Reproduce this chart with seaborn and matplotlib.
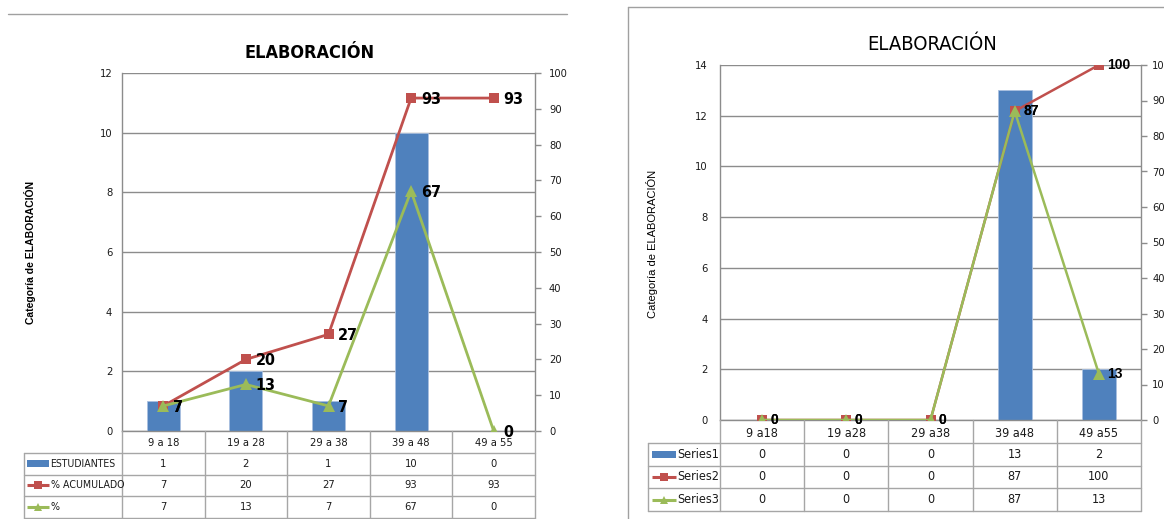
import numpy as np
import pandas as pd
import matplotlib
matplotlib.use("Agg")
import matplotlib.pyplot as plt
import seaborn as sns
from matplotlib.lines import Line2D
from matplotlib.patches import Rectangle

# ---------------- data ----------------
left_categories = ["9 a 18", "19 a 28", "29 a 38", "39 a 48", "49 a 55"]
left_estudiantes = [1, 2, 1, 10, 0]
left_acumulado = [7, 20, 27, 93, 93]
left_porcentaje = [7, 13, 7, 67, 0]
left_names = ["ESTUDIANTES", "% ACUMULADO", "%"]
left_yticks = [0, 2, 4, 6, 8, 10, 12]

right_categories = ["9 a18", "19 a28", "29 a38", "39 a48", "49 a55"]
right_series1 = [0, 0, 0, 13, 2]
right_series2 = [0, 0, 0, 87, 100]
right_series3 = [0, 0, 0, 87, 13]
right_names = ["Series1", "Series2", "Series3"]
right_yticks = [0, 2, 4, 6, 8, 10, 12, 14]

pct_ticks = [0, 10, 20, 30, 40, 50, 60, 70, 80, 90, 100]
title_text = "ELABORACIÓN"
ylabel_text = "Categoría de ELABORACIÓN"

# ---------------- style ----------------
BLUE = "#4F81BD"
RED = "#C0504D"
GREEN = "#9BBB59"
GRID = "#8C8C8C"
TABLE = "#A6A6A6"
TEXT = "#1a1a1a"

W, H = 1164, 519
sns.set_theme(style="white")
COND = ["DejaVu Sans"]
ARIAL = ["Liberation Sans", "DejaVu Sans"]
plt.rcParams["font.family"] = COND
plt.rcParams["font.stretch"] = "condensed"
plt.rcParams["text.color"] = TEXT

fig = plt.figure(figsize=(W / 100, H / 100), dpi=100)
fig.patch.set_facecolor("white")


def fx(px):
    return px / W


def fy(py):
    return 1 - py / H


def draw_panel(cfg):
    cats = cfg["cats"]
    x0, x1, ytop, ybot = cfg["plot"]
    ax = fig.add_axes([fx(x0), fy(ybot), (x1 - x0) / W, (ybot - ytop) / H])

    bars = pd.DataFrame({"cat": cats, "val": cfg["bars"]})
    sns.barplot(data=bars, x="cat", y="val", order=cats, ax=ax, color=BLUE,
                width=0.4, saturation=1, edgecolor="#a9c0e0", linewidth=0.6,
                zorder=2)
    ax.set_xlim(-0.5, len(cats) - 0.5)
    ax.set_ylim(0, cfg["yticks"][-1])
    ax.set_yticks(cfg["yticks"])
    ax.set_xlabel("")
    ax.set_ylabel("")
    ax.grid(axis="y", color=GRID, lw=1.0)
    ax.grid(axis="x", visible=False)
    ax.set_axisbelow(True)
    for s in ["top", "right"]:
        ax.spines[s].set_visible(False)
    for s in ["left", "bottom"]:
        ax.spines[s].set_color(GRID)
        ax.spines[s].set_linewidth(1.0)
    ax.tick_params(axis="y", length=0, pad=cfg["lpad"], labelsize=cfg["tick_fs"],
                   labelcolor=TEXT)
    ax.tick_params(axis="x", length=0, pad=cfg["xpad"], labelsize=cfg["cat_fs"],
                   labelcolor=TEXT)
    for lab in ax.get_yticklabels() + ax.get_xticklabels():
        lab.set_fontfamily(COND)
        lab.set_fontstretch("condensed")

    # percentage lines on the secondary axis
    ax2 = ax.twinx()
    sns.pointplot(x=cats, y=cfg["cum"], order=cats, ax=ax2, color=RED,
                  markers="s", linestyles="-", errorbar=None,
                  markersize=cfg["ms_sq"], linewidth=cfg["lw"],
                  markeredgewidth=0)
    sns.pointplot(x=cats, y=cfg["pct"], order=cats, ax=ax2, color=GREEN,
                  markers="^", linestyles="-", errorbar=None,
                  markersize=cfg["ms_tri"], linewidth=cfg["lw"],
                  markeredgewidth=0)
    ax2.set_xlim(-0.5, len(cats) - 0.5)
    ax2.set_ylim(0, 100)
    ax2.set_yticks(pct_ticks)
    ax2.set_xlabel("")
    ax2.set_ylabel("")
    ax2.grid(False)
    for s in ["top", "left", "bottom"]:
        ax2.spines[s].set_visible(False)
    ax2.spines["right"].set_color(GRID)
    ax2.spines["right"].set_linewidth(1.0)
    ax2.tick_params(axis="y", direction="out", length=4, width=1, color=GRID,
                    pad=cfg["rpad"], labelsize=cfg["tick_fs"], labelcolor=TEXT)
    for lab in ax2.get_yticklabels():
        lab.set_fontfamily(COND)
        lab.set_fontstretch("condensed")
    ax2.set_xticks(range(len(cats)))
    ax2.set_xticklabels(cats)
    ax2.tick_params(axis="x", length=0, labelbottom=False)

    for series in (cfg["cum"], cfg["pct"]):
        for i, v in enumerate(series):
            ax2.annotate(str(v), (i, v), xytext=(cfg["lab_dx"], cfg["lab_dy"]),
                         textcoords="offset points", ha="left", va="center",
                         fontsize=cfg["lab_fs"], fontweight="bold",
                         family=cfg["lab_family"], fontstretch=cfg["lab_stretch"],
                         color="black", annotation_clip=False)

    # data table under the plot
    tleft, tbot = cfg["table"]
    n = len(cats)
    cw = (x1 - x0) / n
    hdr = (x0 - tleft) / cw
    rh = (tbot - ybot) / 4
    axt = fig.add_axes([fx(tleft), fy(tbot), (x1 - tleft) / W, (tbot - ybot) / H])
    axt.set_xlim(-0.5 - hdr, n - 0.5)
    axt.set_ylim(4, 0)
    axt.set_axis_off()
    for k in range(n + 1):
        axt.plot([-0.5 + k, -0.5 + k], [0, 4], color=TABLE, lw=1.0, clip_on=False)
    axt.plot([-0.5 - hdr, -0.5 - hdr], [1, 4], color=TABLE, lw=1.0, clip_on=False)
    for r in range(1, 5):
        axt.plot([-0.5 - hdr, n - 0.5], [r, r], color=TABLE, lw=1.0, clip_on=False)

    rows = [cfg["bars"], cfg["cum"], cfg["pct"]]
    xl = -0.5 - hdr
    g0 = xl + cfg["glyph"][0] / cw
    g1 = xl + cfg["glyph"][1] / cw
    for r, (name, vals) in enumerate(zip(cfg["names"], rows), start=1):
        yc = r + 0.5
        if r == 1:
            axt.add_patch(Rectangle((g0, yc - 3.5 / rh), g1 - g0, 7 / rh,
                                    color=BLUE, lw=0))
        else:
            col = RED if r == 2 else GREEN
            mk = "s" if r == 2 else "^"
            axt.plot([g0, g1], [yc, yc], color=col, lw=2.2, solid_capstyle="butt")
            axt.plot([(g0 + g1) / 2], [yc], marker=mk, color=col, ms=6, mew=0)
        axt.text(g1 + 1.5 / cw, yc, name, ha="left", va="center",
                 fontsize=cfg["hdr_fs"], family=COND, fontstretch="condensed",
                 color=TEXT)
        for i, v in enumerate(vals):
            axt.text(i, yc, str(v), ha="center", va="center",
                     fontsize=cfg["tab_fs"], family=COND, fontstretch="condensed",
                     color=TEXT)

    # title and axis label
    tx, ty = cfg["title_pos"]
    fig.text(fx(tx), fy(ty), title_text, ha="center", va="center",
             fontsize=cfg["title_fs"], fontweight=cfg["title_w"], family=COND,
             fontstretch="condensed", color="black")
    lx, ly = cfg["ylab_pos"]
    fig.text(fx(lx), fy(ly), ylabel_text, rotation=90, ha="center", va="center",
             fontsize=cfg["ylab_fs"], fontweight=cfg["ylab_w"], family=ARIAL,
             color="black")


left_cfg = dict(
    cats=left_categories, bars=left_estudiantes, cum=left_acumulado,
    pct=left_porcentaje, names=left_names, yticks=left_yticks,
    plot=(122, 535, 73, 431), table=(24, 518),
    lpad=7, rpad=6, xpad=5, tick_fs=8, cat_fs=8, tab_fs=8, hdr_fs=7.6,
    ms_sq=7.5, ms_tri=8, lw=2.0,
    lab_dx=7, lab_dy=-1, lab_fs=11.5, lab_family=COND, lab_stretch="condensed",
    glyph=(3, 25), title_pos=(310, 53), title_fs=13, title_w="bold",
    ylab_pos=(30, 252), ylab_fs=7.5, ylab_w="bold",
)

right_cfg = dict(
    cats=right_categories, bars=right_series1, cum=right_series2,
    pct=right_series3, names=right_names, yticks=right_yticks,
    plot=(720, 1141, 65, 420), table=(648, 511),
    lpad=9, rpad=4, xpad=5, tick_fs=8, cat_fs=9, tab_fs=9, hdr_fs=9,
    ms_sq=7, ms_tri=8, lw=1.8,
    lab_dx=6, lab_dy=0, lab_fs=10, lab_family=ARIAL, lab_stretch="normal",
    glyph=(4, 28), title_pos=(932, 44), title_fs=14.5, title_w="normal",
    ylab_pos=(652, 244), ylab_fs=8, ylab_w="normal",
)

draw_panel(left_cfg)
draw_panel(right_cfg)

# chart frames
fig.add_artist(Line2D([fx(8), fx(567)], [fy(14), fy(14)], transform=fig.transFigure,
                      color="#a0a0a0", lw=1.0))
fig.add_artist(Line2D([fx(628), fx(628)], [fy(7), fy(519)], transform=fig.transFigure,
                      color="#a0a0a0", lw=1.0))
fig.add_artist(Line2D([fx(628), fx(1164)], [fy(7), fy(7)], transform=fig.transFigure,
                      color="#a0a0a0", lw=1.0))

fig.savefig("out.png", dpi=100, facecolor="white")
